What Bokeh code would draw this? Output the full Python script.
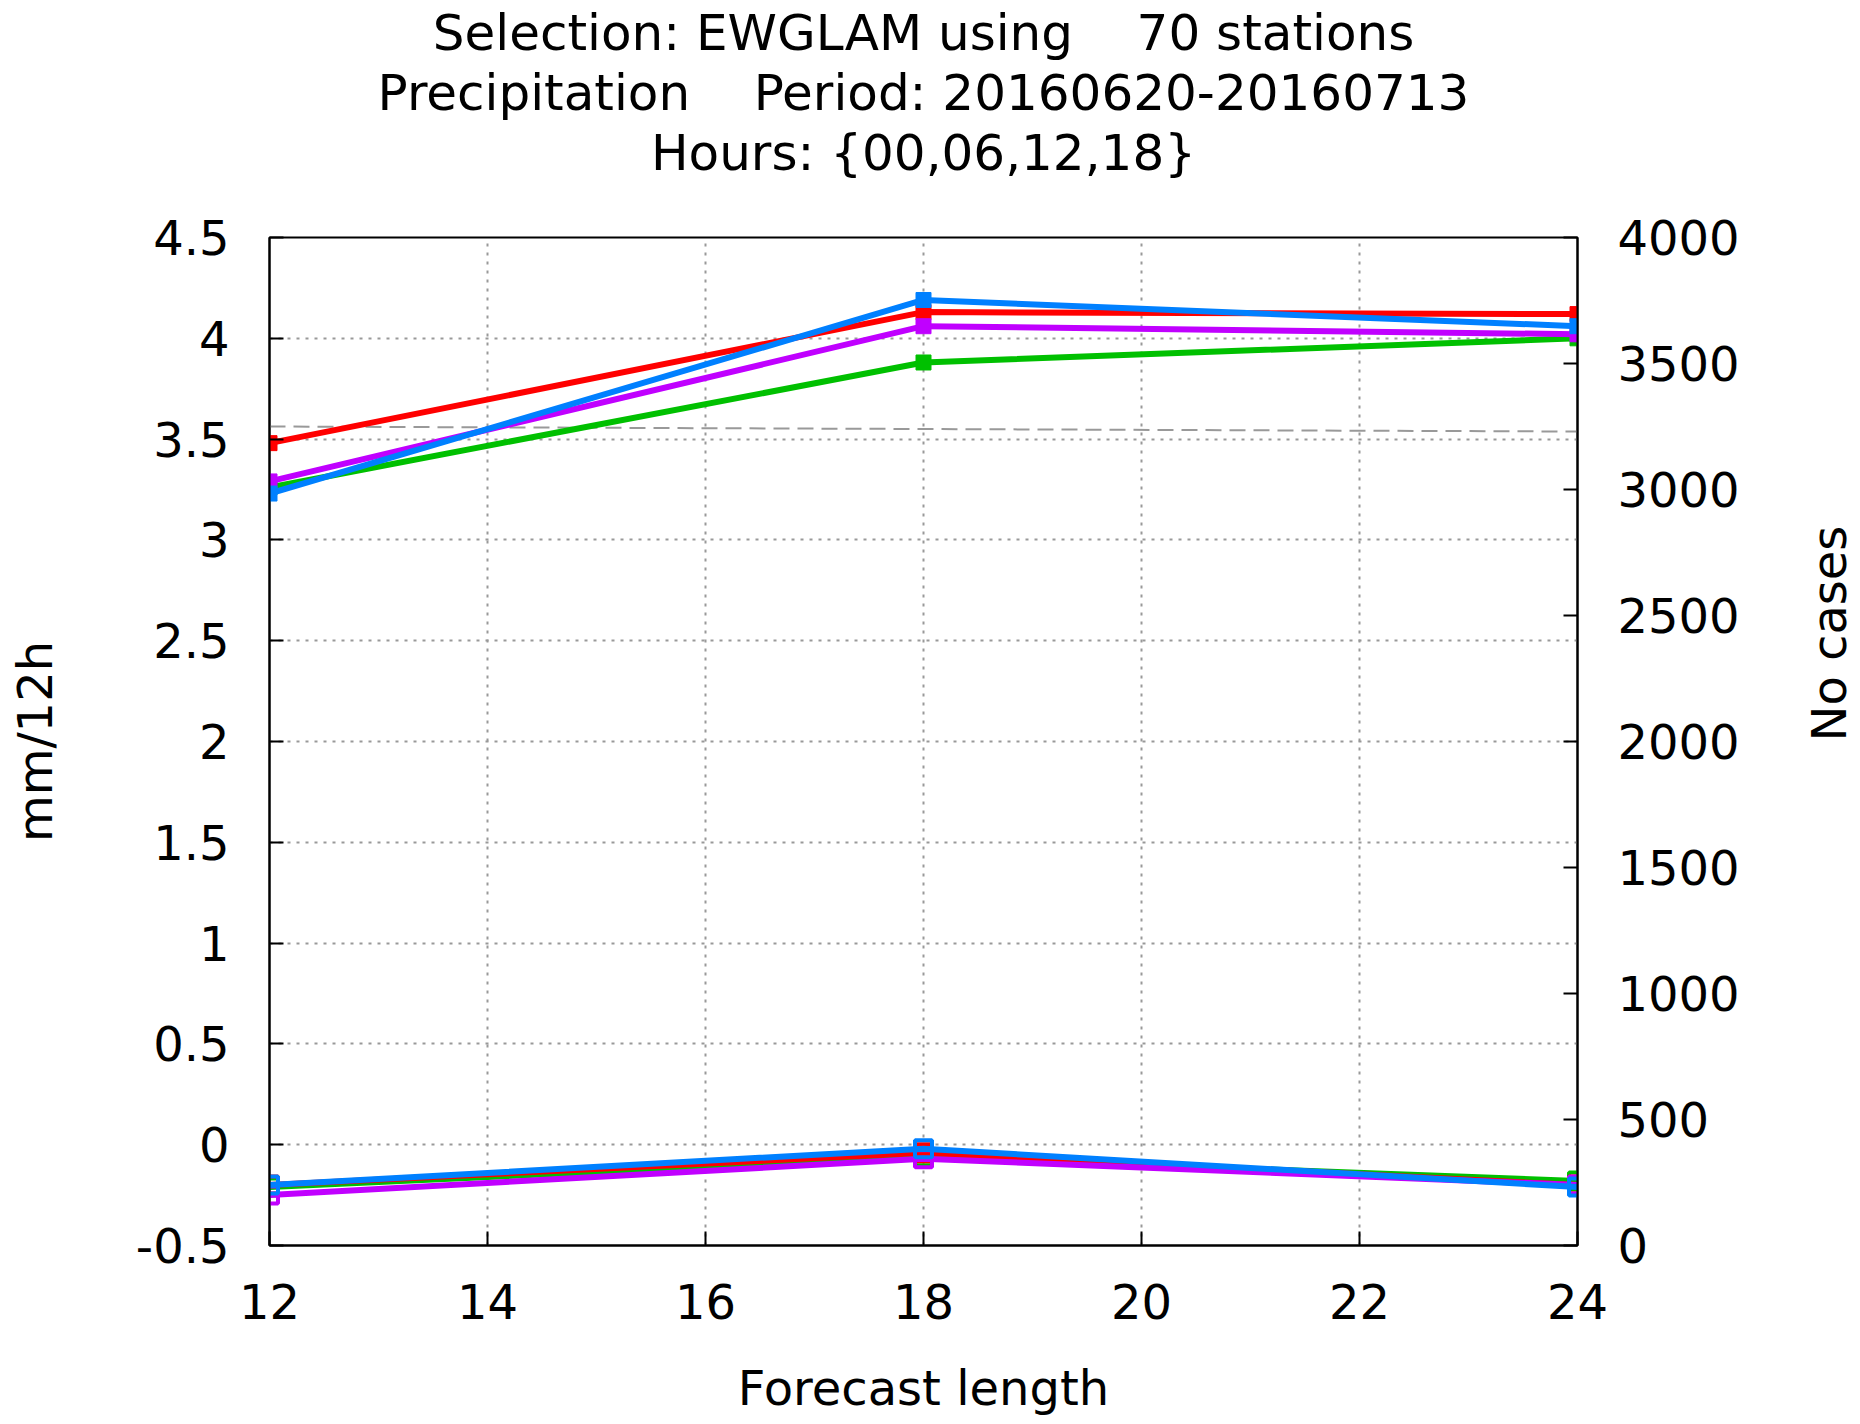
import math
from bokeh.plotting import figure
from bokeh.models import LinearAxis, Range1d, Title, FixedTicker
from bokeh.embed import file_html
from bokeh.resources import INLINE

x = [12, 18, 24]
red_mean = [3.48, 4.13, 4.12]
blue_mean = [3.23, 4.19, 4.06]
mag_mean = [3.29, 4.06, 4.02]
green_mean = [3.26, 3.88, 4.00]
red_bias = [-0.20, -0.04, -0.20]
blue_bias = [-0.20, -0.02, -0.21]
mag_bias = [-0.25, -0.07, -0.20]
green_bias = [-0.21, -0.06, -0.18]
cases_x = [12, 24]
cases = [3250, 3230]
y_ticks = [-0.5, 0, 0.5, 1, 1.5, 2, 2.5, 3, 3.5, 4, 4.5]

F = "DejaVu Sans"
NB = "\u00a0"
p = figure(output_backend="svg", toolbar_location=None,
           frame_width=1308, frame_height=1008,
           x_range=Range1d(12, 24), y_range=Range1d(-0.5, 4.5),
           min_border_left=269, min_border_right=262, min_border_bottom=160, min_border_top=237)
p.extra_y_ranges = {"n": Range1d(0, 4000)}

p.add_layout(Title(text=NB, text_font=F, text_font_size="46px", standoff=0), "above")
titles = ["Hours: {00,06,12,18}", "Precipitation" + NB * 4 + "Period: 20160620-20160713",
          "Selection: EWGLAM using" + NB * 4 + "70 stations"]
for t in titles:
    p.add_layout(Title(text=t, align="center", text_font=F, text_font_size="50px",
                       text_font_style="normal", text_color="black", standoff=0), "above")

p.line(cases_x, cases, y_range_name="n", color="#999999", line_width=2, line_dash="16 8")

cols = {"red": "#ff0000", "blue": "#0080ff", "mag": "#c000ff", "green": "#00c000"}
for mean, bias, c in [(green_mean, green_bias, cols["green"]), (red_mean, red_bias, cols["red"]),
                      (mag_mean, mag_bias, cols["mag"]), (blue_mean, blue_bias, cols["blue"])]:
    p.line(x, mean, color=c, line_width=6)
    p.scatter(x, mean, marker="square", size=15, color=c)
    p.line(x, bias, color=c, line_width=6)
    p.scatter(x, bias, marker="square", size=17, line_color=c, fill_color=None, line_width=4)

ax2 = LinearAxis(y_range_name="n", axis_label="No cases", ticker=FixedTicker(ticks=list(range(0, 4001, 500))))
p.add_layout(ax2, "right")

p.xaxis.ticker = FixedTicker(ticks=[12, 14, 16, 18, 20, 22, 24])
p.yaxis[0].ticker = FixedTicker(ticks=y_ticks)
p.yaxis[0].major_label_overrides = {v: ("%g" % v) for v in y_ticks}
p.yaxis[0].axis_label = "mm/12h"
p.xaxis.axis_label = "Forecast length"
for a in p.axis:
    a.major_label_text_font = F
    a.major_label_text_font_size = "48px"
    a.major_label_text_color = "black"
    a.axis_label_text_font = F
    a.axis_label_text_font_size = "48px"
    a.axis_label_text_font_style = "normal"
    a.axis_label_text_color = "black"
    a.major_tick_in = 14
    a.major_tick_out = 0
    a.minor_tick_line_color = None
    a.axis_line_width = 2
    a.major_tick_line_width = 2
    a.major_label_standoff = 40
ax2.axis_label_orientation = math.pi / 2
ax2.axis_label_standoff = 86
p.yaxis[0].axis_label_standoff = 70
p.xaxis.major_label_standoff = 38
p.xaxis.axis_label_standoff = 38
p.outline_line_color = "black"
p.outline_line_width = 2
p.outline_line_alpha = 1
p.grid.grid_line_color = "#999999"
p.grid.grid_line_dash = "3 6"
p.grid.grid_line_width = 2
p.background_fill_color = "white"

open("out.html", "w").write(file_html(p, INLINE))
